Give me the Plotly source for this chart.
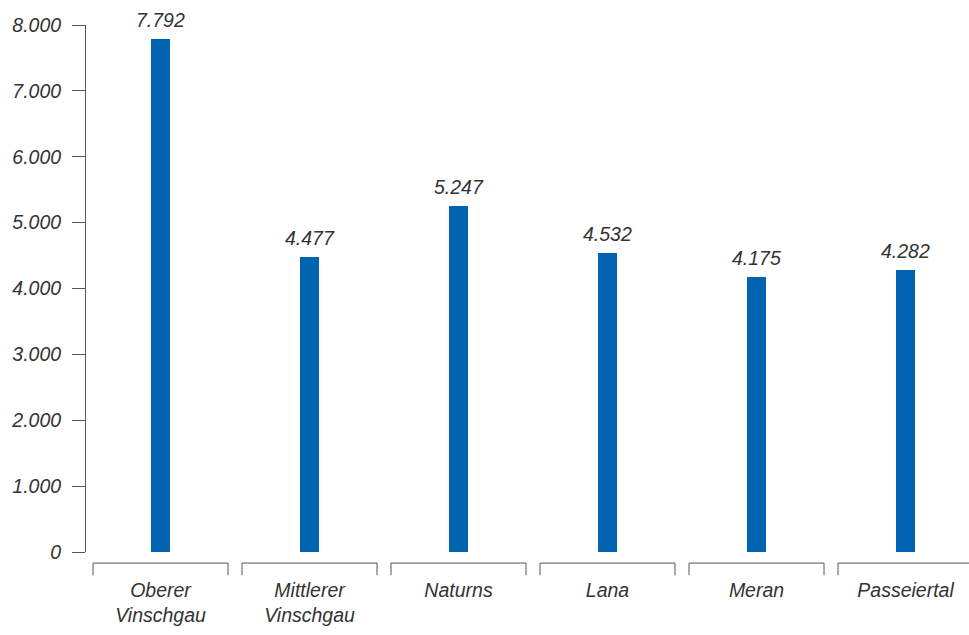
import plotly.graph_objects as go

# Category names (two-line where the name is long) and values
categories = ["Oberer<br>Vinschgau", "Mittlerer<br>Vinschgau", "Naturns", "Lana", "Meran", "Passeiertal"]
values = [7792, 4477, 5247, 4532, 4175, 4282]
y_ticks = [0, 1000, 2000, 3000, 4000, 5000, 6000, 7000, 8000]

FONT = "Liberation Sans, Arial, sans-serif"
FSIZE = 19.5
TEXT = "#333333"
AXIS = "#555555"
BAR = "#0064b1"

x_pos = list(range(len(categories)))
x_range = [-0.5, 5.426]

fig = go.Figure(
    go.Bar(
        x=x_pos,
        y=values,
        width=0.128,
        marker=dict(color=BAR, line=dict(width=0)),
        hoverinfo="y",
    )
)

# Value labels above the bars (German thousands separator)
for i, v in zip(x_pos, values):
    fig.add_annotation(
        x=i, y=v, xref="x", yref="y",
        text=f"{v:,}".replace(",", "."),
        showarrow=False, yanchor="bottom", xanchor="center",
        yshift=6,
        font=dict(family=FONT, size=FSIZE, color=TEXT, style="italic"),
    )

# Bracket under each category
def to_paper(x):
    return (x - x_range[0]) / (x_range[1] - x_range[0])

half = 0.453
y_top, y_bot = -0.021, -0.044
for i in x_pos:
    x0, x1 = to_paper(i - half), to_paper(i + half)
    fig.add_shape(
        type="path",
        xref="paper", yref="paper",
        path=f"M {x0} {y_bot} L {x0} {y_top} L {x1} {y_top} L {x1} {y_bot}",
        line=dict(color=AXIS, width=1),
    )

fig.update_layout(
    width=969, height=635,
    margin=dict(l=86, r=0, t=25, b=83),
    plot_bgcolor="white", paper_bgcolor="white",
    showlegend=False,
    separators=",.",
    bargap=0,
    font=dict(family=FONT, color=TEXT),
    xaxis=dict(
        range=x_range,
        tickvals=x_pos,
        ticktext=categories,
        showline=False, showgrid=False, zeroline=False,
        ticks="", ticklabelstandoff=24,
        tickfont=dict(family=FONT, size=FSIZE, color=TEXT, style="italic"),
    ),
    yaxis=dict(
        range=[0, 8000],
        tickvals=y_ticks,
        tickformat=",d",
        showline=True, linecolor=AXIS, linewidth=1,
        showgrid=False, zeroline=False,
        ticks="outside", ticklen=13, tickcolor=AXIS, tickwidth=1,
        ticklabelstandoff=7,
        tickfont=dict(family=FONT, size=FSIZE, color=TEXT, style="italic"),
    ),
)

fig.write_html("out.html")
